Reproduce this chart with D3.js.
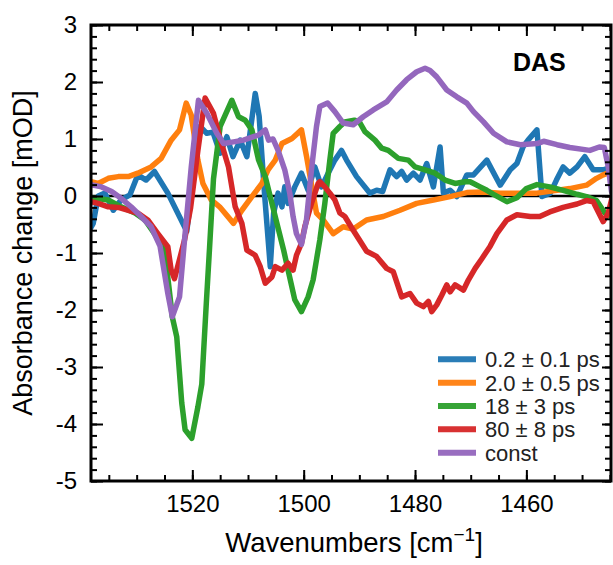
<!DOCTYPE html>
<html><head><meta charset="utf-8">
<script src="https://cdn.jsdelivr.net/npm/d3@7"></script>
<style>body{margin:0;background:#fff}svg{display:block;font-family:"Liberation Sans",Arial,sans-serif}</style>
</head><body>
<svg id="c" width="613" height="565"></svg>
<script>
// ---- data (wavenumber, absorbance change in mOD) ----
const seriesLabels = ["0.2 \u00b1 0.1 ps", "2.0 \u00b1 0.5 ps", "18 \u00b1 3 ps", "80 \u00b1 8 ps", "const"];
const seriesColors = ["#1f77b4", "#ff7f0e", "#2ca02c", "#d62728", "#9467bd"];
const xTicksMajor = [1520, 1500, 1480, 1460];
const yTicksMajor = [-5, -4, -3, -2, -1, 0, 1, 2, 3];

const das02 = [[1538.2,-0.55],[1537.8,-0.48],[1536.9,0.0],[1535.7,0.05],[1534.2,-0.25],[1532.8,-0.07],[1531.2,0.02],[1529.8,0.37],[1528.3,0.28],[1526.8,0.43],[1524.4,0.05],[1521.0,-0.62],[1518.6,1.22],[1517.4,1.1],[1516.3,1.12],[1515.0,0.75],[1513.8,1.04],[1512.7,0.69],[1511.4,0.98],[1510.2,0.69],[1508.7,1.8],[1508.0,1.4],[1507.0,0.0],[1506.0,-1.24],[1505.4,-0.3],[1504.6,0.05],[1503.9,-0.19],[1503.4,0.16],[1502.8,-0.13],[1501.6,0.16],[1500.4,0.4],[1499.2,0.1],[1498.0,0.51],[1496.8,0.16],[1495.6,0.4],[1494.4,0.63],[1493.2,0.8],[1492.3,0.63],[1490.5,0.34],[1488.1,0.05],[1486.9,0.1],[1485.8,0.08],[1484.5,0.46],[1483.3,0.34],[1482.4,0.43],[1481.5,0.28],[1480.3,0.4],[1479.1,0.28],[1477.9,0.57],[1476.7,0.16],[1475.5,0.86],[1474.9,0.05],[1473.7,0.1],[1472.5,-0.01],[1470.7,0.37],[1469.5,0.37],[1467.1,0.63],[1464.7,0.19],[1462.9,0.46],[1461.7,0.57],[1460.6,0.86],[1459.7,0.98],[1458.1,1.16],[1457.2,-0.01],[1455.7,0.05],[1454.6,0.28],[1453.4,0.51],[1452.2,0.4],[1450.9,0.51],[1449.5,0.69],[1448.0,0.46],[1446.2,0.46],[1444.8,0.5]];

const das20 = [[1538.2,0.25],[1536.9,0.22],[1535.1,0.31],[1533.3,0.34],[1531.5,0.34],[1529.8,0.4],[1527.4,0.51],[1525.6,0.66],[1523.8,0.98],[1522.3,1.16],[1521.1,1.63],[1520.2,1.42],[1519.0,0.63],[1518.1,0.22],[1516.6,-0.07],[1515.1,-0.19],[1512.6,-0.48],[1511.1,-0.25],[1509.3,-0.01],[1507.5,0.22],[1506.4,0.46],[1505.1,0.63],[1503.9,0.92],[1502.1,1.01],[1500.4,1.16],[1499.5,0.7],[1497.7,-0.3],[1496.5,-0.42],[1494.7,-0.66],[1492.9,-0.54],[1491.1,-0.58],[1488.7,-0.42],[1485.7,-0.36],[1482.7,-0.25],[1479.7,-0.13],[1476.7,-0.07],[1473.7,-0.01],[1470.7,0.06],[1467.7,0.07],[1464.7,0.05],[1458.1,0.05],[1452.2,0.13],[1449.2,0.19],[1447.4,0.31],[1446.2,0.37],[1444.7,0.43]];

const das18 = [[1538.2,-0.03],[1535.1,-0.07],[1532.8,-0.19],[1530.3,-0.3],[1528.5,-0.42],[1526.8,-0.66],[1525.0,-0.95],[1524.2,-1.6],[1523.6,-2.12],[1522.8,-2.47],[1521.9,-3.63],[1521.3,-4.1],[1520.1,-4.25],[1519.0,-3.7],[1518.3,-3.3],[1517.5,-1.9],[1516.9,-0.9],[1516.2,0.3],[1515.0,1.22],[1512.9,1.68],[1511.7,1.39],[1510.5,1.33],[1509.3,1.16],[1508.1,0.63],[1506.9,0.34],[1505.7,-0.13],[1504.5,-0.6],[1503.6,-0.95],[1502.8,-1.3],[1501.6,-1.82],[1500.4,-2.03],[1499.2,-1.77],[1498.3,-1.47],[1497.7,-1.12],[1497.1,-0.77],[1496.2,-0.13],[1495.3,0.63],[1494.7,1.1],[1493.5,1.22],[1492.6,1.3],[1490.9,1.33],[1490.0,1.3],[1489.0,1.13],[1487.2,0.98],[1486.0,0.84],[1484.8,0.8],[1483.0,0.66],[1481.2,0.63],[1480.0,0.51],[1478.2,0.46],[1476.4,0.4],[1474.6,0.28],[1472.8,0.22],[1471.0,0.25],[1470.1,0.25],[1468.3,0.16],[1467.1,0.1],[1465.9,0.03],[1463.5,-0.1],[1461.7,-0.03],[1460.0,0.13],[1458.1,0.2],[1455.8,0.16],[1453.4,0.1],[1450.9,0.03],[1449.2,-0.01],[1447.4,-0.08],[1445.9,-0.3],[1444.7,-0.36]];

const das80 = [[1538.2,-0.1],[1536.9,-0.13],[1535.1,-0.19],[1533.3,-0.2],[1531.5,-0.25],[1529.8,-0.3],[1528.0,-0.42],[1526.2,-0.66],[1524.4,-0.89],[1523.8,-1.3],[1523.2,-1.45],[1522.0,-1.0],[1521.4,-0.77],[1520.3,-0.2],[1519.0,0.8],[1517.7,1.72],[1516.2,1.45],[1515.0,1.0],[1513.5,0.51],[1512.3,-0.19],[1511.1,-0.48],[1510.2,-0.95],[1508.7,-1.04],[1507.8,-1.24],[1506.9,-1.53],[1505.7,-1.42],[1505.1,-1.24],[1503.9,-1.3],[1502.8,-1.18],[1501.9,-1.3],[1501.3,-1.04],[1500.4,-0.83],[1499.8,-0.54],[1498.6,-0.13],[1497.4,0.22],[1497.1,0.25],[1496.2,0.16],[1495.3,0.05],[1494.4,-0.07],[1493.5,-0.3],[1492.6,-0.36],[1491.1,-0.6],[1488.7,-0.97],[1486.9,-1.06],[1485.1,-1.27],[1483.9,-1.33],[1482.4,-1.77],[1480.9,-1.71],[1479.7,-1.88],[1478.5,-1.94],[1477.6,-1.85],[1477.0,-2.03],[1476.1,-1.91],[1475.2,-1.74],[1474.3,-1.56],[1473.7,-1.68],[1472.8,-1.56],[1471.3,-1.65],[1470.4,-1.47],[1469.2,-1.27],[1468.0,-1.1],[1466.5,-0.88],[1465.3,-0.66],[1463.5,-0.42],[1461.7,-0.33],[1459.3,-0.36],[1457.6,-0.36],[1455.8,-0.28],[1453.4,-0.2],[1450.9,-0.14],[1449.2,-0.08],[1448.0,-0.1],[1446.2,-0.45],[1445.3,-0.3],[1444.4,0.05]];

const dasConst = [[1538.2,0.2],[1536.3,0.16],[1534.5,0.08],[1532.8,-0.04],[1531.0,-0.19],[1529.2,-0.36],[1527.4,-0.54],[1525.8,-0.88],[1524.4,-1.71],[1523.6,-2.12],[1522.3,-1.77],[1521.4,-0.77],[1520.2,0.5],[1518.9,1.68],[1517.4,1.45],[1515.6,1.1],[1514.4,0.92],[1512.6,0.95],[1510.8,0.98],[1509.0,1.04],[1508.1,1.07],[1506.9,1.16],[1506.3,0.98],[1505.5,1.0],[1504.6,0.8],[1503.4,0.46],[1502.5,0.05],[1501.9,-0.36],[1501.3,-0.66],[1500.4,-0.85],[1499.5,-0.42],[1498.6,0.46],[1497.7,1.22],[1497.1,1.57],[1495.7,1.63],[1494.4,1.48],[1492.9,1.28],[1491.1,1.25],[1489.3,1.39],[1487.5,1.51],[1485.1,1.65],[1483.3,1.86],[1481.5,2.04],[1479.7,2.18],[1478.2,2.24],[1477.3,2.2],[1476.1,2.09],[1474.3,1.86],[1472.5,1.74],[1470.7,1.63],[1469.5,1.48],[1467.7,1.3],[1465.9,1.1],[1463.5,0.95],[1461.1,0.9],[1458.1,0.92],[1456.9,0.96],[1454.5,0.9],[1452.2,0.85],[1448.6,0.8],[1446.9,0.86],[1446.0,0.85],[1445.3,0.51],[1444.7,0.07]];

const allSeries = [das02, das20, das18, das80, dasConst];

// ---- layout ----
const L = 91, R = 611, T = 25, B = 481;
const svg = d3.select("#c");
const x = d3.scaleLinear().domain([1538.2, 1444.8]).range([L, R]);
const y = d3.scaleLinear().domain([-5, 3]).range([B, T]);

svg.append("defs").append("clipPath").attr("id", "clip")
  .append("rect").attr("x", L).attr("y", T).attr("width", R - L).attr("height", B - T);

// zero line
svg.append("line").attr("x1", L).attr("x2", R).attr("y1", y(0)).attr("y2", y(0))
  .attr("stroke", "#000").attr("stroke-width", 2.5);

// series
const line = d3.line().x(d => x(d[0])).y(d => y(d[1]));
const g = svg.append("g").attr("clip-path", "url(#clip)");
allSeries.forEach((s, i) => {
  g.append("path").attr("d", line(s)).attr("fill", "none")
    .attr("stroke", seriesColors[i]).attr("stroke-width", 5.5)
    .attr("stroke-linejoin", "round").attr("stroke-linecap", "round");
});

// axes
const xMinor = d3.range(1445, 1540, 5);
const yMinor = d3.range(-5, 3.001, 0.2).map(v => Math.round(v * 10) / 10);
const axB = d3.axisBottom(x).tickValues(xMinor).tickSize(-6).tickFormat("");
const axT = d3.axisTop(x).tickValues(xMinor).tickSize(-6).tickFormat("");
const axL = d3.axisLeft(y).tickValues(yMinor).tickSize(-6).tickFormat("");
const axR = d3.axisRight(y).tickValues(yMinor).tickSize(-6).tickFormat("");
const axBM = d3.axisBottom(x).tickValues(xTicksMajor).tickSize(-11).tickPadding(14).tickFormat(d => String(d));
const axTM = d3.axisTop(x).tickValues(xTicksMajor).tickSize(-11).tickFormat("");
const axLM = d3.axisLeft(y).tickValues(yTicksMajor).tickSize(-12).tickPadding(14).tickFormat(d => String(d));
const axRM = d3.axisRight(y).tickValues(yTicksMajor).tickSize(-9).tickFormat("");

function draw(ax, tr) {
  const a = svg.append("g").attr("transform", tr).call(ax);
  a.select(".domain").remove();
  a.selectAll(".tick line").attr("stroke", "#000").attr("stroke-width", 2);
  a.selectAll(".tick text").attr("fill", "#000").attr("font-size", 24)
    .attr("font-family", '"Liberation Sans", Arial, sans-serif');
  return a;
}
draw(axB, `translate(0,${B})`);
draw(axT, `translate(0,${T})`);
draw(axL, `translate(${L},0)`);
draw(axR, `translate(${R},0)`);
draw(axBM, `translate(0,${B})`);
draw(axTM, `translate(0,${T})`);
draw(axLM, `translate(${L},0)`);
draw(axRM, `translate(${R},0)`);

// frame
svg.append("rect").attr("x", L).attr("y", T).attr("width", R - L).attr("height", B - T)
  .attr("fill", "none").attr("stroke", "#000").attr("stroke-width", 3);

// labels
svg.append("text").attr("transform", `translate(32,${(T + B) / 2}) rotate(-90)`)
  .attr("text-anchor", "middle").attr("font-size", 27).text("Absorbance change [mOD]");
const xl = svg.append("text").attr("x", (L + R) / 2 + 3).attr("y", 552)
  .attr("text-anchor", "middle").attr("font-size", 27.5);
xl.append("tspan").text("Wavenumbers [cm");
xl.append("tspan").attr("dy", -11).attr("font-size", 19).text("\u22121");
xl.append("tspan").attr("dy", 11).text("]");

svg.append("text").attr("x", 513).attr("y", 70.5).attr("font-size", 25)
  .attr("font-weight", "bold").text("DAS");

// legend
const legY0 = 359.3, legDy = 23.35;
seriesLabels.forEach((lab, i) => {
  const yy = legY0 + i * legDy;
  svg.append("line").attr("x1", 438).attr("x2", 476).attr("y1", yy).attr("y2", yy)
    .attr("stroke", seriesColors[i]).attr("stroke-width", 6).attr("opacity", 0.95);
  svg.append("text").attr("x", 485).attr("y", yy + 8).attr("font-size", 22)
    .attr("fill", "#222").text(lab);
});
</script>
</body></html>
